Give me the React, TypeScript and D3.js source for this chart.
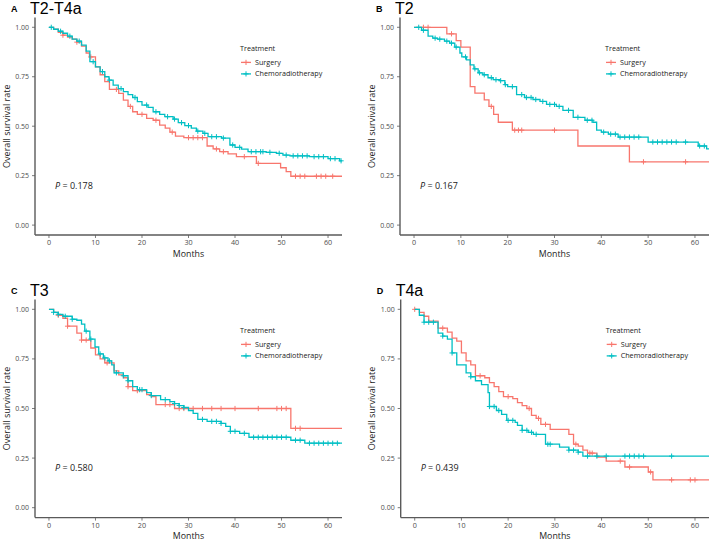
import React from 'react';
import * as d3 from 'd3';

const W = 709;
const H = 542;

const xTicks = [0, 10, 20, 30, 40, 50, 60];
const yTicks = [0, 0.25, 0.5, 0.75, 1];
const yTickLabels = ['0.00', '0.25', '0.50', '0.75', '1.00'];
const seriesNames = ['Surgery', 'Chemoradiotherapy'];
const seriesColors = ['#F8766D', '#00BFC4'];
const panelLetters = ['A', 'B', 'C', 'D'];
const panelTitles = ['T2-T4a', 'T2', 'T3', 'T4a'];
const pValues = ['0.178', '0.167', '0.580', '0.439'];
const legendTitle = 'Treatment';
const xLabel = 'Months';
const yLabel = 'Overall survival rate';

// Panel A (T2-T4a)
const aSurgTime = [1, 2, 3, 4, 5, 6, 7, 8, 8.7, 10, 11, 12, 13, 15, 16, 17, 18, 19, 21, 22.4, 23.8, 25, 26, 27.2, 29, 34, 35.3, 36.7, 38.5, 40.3, 44.6, 49.8, 51, 52];
const aSurgSurv = [0.99, 0.975, 0.96, 0.95, 0.94, 0.925, 0.905, 0.87, 0.85, 0.8, 0.76, 0.725, 0.686, 0.666, 0.632, 0.6, 0.573, 0.56, 0.54, 0.53, 0.505, 0.49, 0.47, 0.45, 0.442, 0.4, 0.385, 0.371, 0.36, 0.346, 0.312, 0.29, 0.27, 0.247];
const aSurgCens = [3, 6, 9, 14.5, 17.5, 20, 23, 26.5, 30, 31, 32, 33, 36, 37.5, 42, 45, 53, 54, 55, 57.5, 58.5, 59.5, 61];
const aChemTime = [1, 2, 3, 4, 5, 6, 7, 8, 8.8, 10, 11, 12, 12.9, 13.8, 14.9, 16, 17, 18, 19, 20, 21.3, 22.4, 23.8, 24.9, 26.7, 27.8, 29.2, 30.6, 31.7, 33.1, 34.2, 37.1, 38.9, 40, 41.4, 42.8, 46.7, 48.9, 50.3, 51.8, 56, 60, 62.5];
const aChemSurv = [0.99, 0.98, 0.97, 0.955, 0.94, 0.93, 0.91, 0.88, 0.826, 0.8, 0.776, 0.75, 0.733, 0.708, 0.69, 0.675, 0.66, 0.645, 0.624, 0.607, 0.595, 0.573, 0.56, 0.548, 0.536, 0.518, 0.503, 0.49, 0.475, 0.464, 0.447, 0.44, 0.405, 0.393, 0.384, 0.371, 0.368, 0.363, 0.354, 0.35, 0.346, 0.336, 0.325];
const aChemCens = [0.5, 2.5, 4.5, 6.5, 9.5, 11.5, 13, 15.5, 18.5, 21, 23, 25.5, 27, 28.5, 30, 32, 33.5, 35, 36, 37.5, 39.5, 41, 43.5, 44.5, 45.5, 46, 47.5, 49.5, 51, 52.5, 53.5, 54.5, 55.5, 57, 58, 59, 60.5, 61.5, 62.8];

// Panel B (T2)
const bSurgTime = [7, 9, 10, 12, 13, 15, 16, 17, 18, 21, 35, 46];
const bSurgSurv = [0.967, 0.933, 0.9, 0.7, 0.667, 0.633, 0.6, 0.56, 0.52, 0.48, 0.4, 0.32];
const bSurgCens = [2, 3, 8, 16.5, 21.5, 22.3, 23, 30, 49, 58];
const bChemTime = [1.6, 3, 4, 5, 6.5, 7.6, 8.7, 9.8, 10.2, 11.2, 12, 12.8, 13.7, 14.7, 15.8, 16.9, 18.3, 19.4, 20, 21.9, 23.6, 25.4, 26.9, 28.3, 30.4, 31.8, 34, 36.5, 38.2, 39, 40, 41.5, 43.6, 50, 60.7, 62.5];
const bChemSurv = [0.985, 0.955, 0.945, 0.94, 0.93, 0.92, 0.9, 0.87, 0.85, 0.835, 0.81, 0.79, 0.77, 0.76, 0.745, 0.735, 0.73, 0.71, 0.7, 0.66, 0.645, 0.635, 0.625, 0.61, 0.6, 0.58, 0.545, 0.53, 0.52, 0.48, 0.47, 0.46, 0.445, 0.42, 0.4, 0.385];
const bChemCens = [1, 2, 4.5, 5.5, 7, 8, 9, 11, 13, 14, 15, 16.5, 17.5, 18.5, 19.5, 21, 23, 24, 25, 26, 27.5, 29, 30, 31, 33, 35, 37, 38, 40.5, 42, 43, 44, 45, 46, 47, 48, 51, 52, 53, 54, 55, 56, 58, 61, 62];

// Panel C (T3)
const cSurgTime = [1, 2, 3, 4, 6, 7, 9, 10, 11, 12, 14, 15, 16, 17, 18, 21, 22, 23, 27, 52];
const cSurgSurv = [0.985, 0.97, 0.955, 0.915, 0.88, 0.845, 0.805, 0.77, 0.75, 0.73, 0.69, 0.67, 0.655, 0.61, 0.59, 0.57, 0.56, 0.52, 0.5, 0.4];
const cSurgCens = [2, 4, 7, 8, 12.5, 17, 19, 25, 26, 28, 29, 31, 33, 35, 37, 40, 45, 49, 50, 51, 53, 54];
const cChemTime = [1, 2, 3, 5, 6, 7, 7.7, 8.8, 9.9, 10.7, 11.7, 12.7, 13.5, 14, 16, 17, 18, 19, 21, 22, 24, 26, 27, 28, 29, 30, 31, 32, 34, 37, 38, 39, 41, 43, 52, 55];
const cChemSurv = [0.985, 0.975, 0.965, 0.95, 0.945, 0.925, 0.89, 0.85, 0.81, 0.775, 0.755, 0.74, 0.72, 0.68, 0.665, 0.64, 0.61, 0.595, 0.58, 0.565, 0.545, 0.535, 0.525, 0.515, 0.505, 0.49, 0.475, 0.445, 0.435, 0.425, 0.41, 0.385, 0.375, 0.355, 0.34, 0.325];
const cChemCens = [1, 2, 3.5, 5, 8, 9, 11, 12, 13, 14.5, 16, 17, 19.5, 20, 22, 25, 27, 28, 29, 33, 35, 36, 37, 39, 40, 42, 44, 45, 46, 47, 48, 49, 50, 51, 53, 54, 56, 57, 58, 59, 60, 61, 62];

// Panel D (T4a)
const dSurgTime = [1, 2, 3, 5, 7, 8, 9, 10, 11, 12, 13, 15, 16, 17, 18, 19, 21, 22, 23, 24, 25, 26, 27, 29, 33, 34, 35, 36, 37, 39, 41, 45, 50, 51];
const dSurgSurv = [0.985, 0.965, 0.94, 0.905, 0.885, 0.855, 0.84, 0.78, 0.74, 0.72, 0.665, 0.655, 0.63, 0.61, 0.585, 0.56, 0.55, 0.53, 0.515, 0.5, 0.465, 0.45, 0.42, 0.395, 0.37, 0.32, 0.31, 0.29, 0.275, 0.255, 0.235, 0.205, 0.18, 0.14];
const dSurgCens = [0, 6, 14, 20, 24.5, 26.5, 28, 34.5, 37.5, 38, 44, 46, 50.5, 55, 59, 60];
const dChemTime = [1, 2, 5, 6, 7, 8, 9, 11, 12, 13, 14.3, 15.7, 16, 17.5, 18.6, 19.7, 21.5, 22, 23, 24.3, 25.4, 28, 31, 33, 35, 36];
const dChemSurv = [0.97, 0.935, 0.88, 0.865, 0.85, 0.78, 0.72, 0.68, 0.66, 0.64, 0.62, 0.58, 0.51, 0.49, 0.47, 0.44, 0.43, 0.415, 0.39, 0.38, 0.37, 0.32, 0.305, 0.29, 0.28, 0.26];
const dChemCens = [2, 3, 4, 6, 8, 12, 16, 17, 18, 20, 21, 23, 24, 25, 26, 28.5, 29, 33, 34, 35, 37, 39, 41, 45, 46, 47, 48, 49, 55];

const panelData = [
  [[aSurgTime, aSurgSurv, aSurgCens], [aChemTime, aChemSurv, aChemCens]],
  [[bSurgTime, bSurgSurv, bSurgCens], [bChemTime, bChemSurv, bChemCens]],
  [[cSurgTime, cSurgSurv, cSurgCens], [cChemTime, cChemSurv, cChemCens]],
  [[dSurgTime, dSurgSurv, dSurgCens], [dChemTime, dChemSurv, dChemCens]],
];

const FONT = "'Open Sans', 'Noto Sans', sans-serif";
const TITLE_FONT = "'Liberation Sans', Arial, sans-serif";
const AXIS_COLOR = '#5a5a5a';
const TEXT_COLOR = '#4d4d4d';

function survAt(times: number[], surv: number[], t: number) {
  let s = 1;
  for (let i = 0; i < times.length; i++) {
    if (times[i] <= t) s = surv[i];
  }
  return s;
}

function Plus({ x, y, color }: { x: number; y: number; color: string }) {
  const a = 2.6;
  return (
    <g stroke={color} strokeWidth={1}>
      <line x1={x - a} x2={x + a} y1={y} y2={y} />
      <line x1={x} x2={x} y1={y - a} y2={y + a} />
    </g>
  );
}

function Panel({ idx, left, right, top, bottom }: { idx: number; left: number; right: number; top: number; bottom: number }) {
  const x = d3.scaleLinear().domain([-3, 63]).range([left, right]);
  const y = d3.scaleLinear().domain([-0.05, 1.05]).range([bottom, top]);
  const line = d3
    .line<[number, number]>()
    .x((d) => x(d[0]))
    .y((d) => y(d[1]))
    .curve(d3.curveStepAfter);
  const series = panelData[idx];
  const legX = left + 205;
  const legY = top + 31;
  const midY = (top + bottom) / 2;
  return (
    <g>
      <text x={left - 24} y={top - 5} fontFamily={TITLE_FONT} fontWeight="bold" fontSize={9} fill="#000">
        {panelLetters[idx]}
      </text>
      <text x={left - 5} y={top - 3.5} fontFamily={TITLE_FONT} fontSize={16} fill="#000">
        {panelTitles[idx]}
      </text>
      {series.map((s, si) => {
        const [times, surv, cens] = s as number[][];
        const pts: [number, number][] = [[0, 1]];
        times.forEach((t, i) => pts.push([t, surv[i]]));
        pts.push([63, surv[surv.length - 1]]);
        return (
          <g key={si}>
            <path d={line(pts) || ''} fill="none" stroke={seriesColors[si]} strokeWidth={1.3} />
            {cens.map((c, ci) => (
              <Plus key={ci} x={x(c)} y={y(survAt(times, surv, c))} color={seriesColors[si]} />
            ))}
          </g>
        );
      })}
      <line x1={left} x2={left} y1={top} y2={bottom} stroke={AXIS_COLOR} strokeWidth={1.4} />
      <line x1={left} x2={right} y1={bottom} y2={bottom} stroke={AXIS_COLOR} strokeWidth={1.4} />
      {yTicks.map((t, i) => (
        <g key={i}>
          <line x1={left - 3} x2={left} y1={y(t)} y2={y(t)} stroke={AXIS_COLOR} strokeWidth={0.8} />
          <text x={left - 6} y={y(t)} dy="0.35em" textAnchor="end" fontFamily={FONT} fontSize={7} fill={TEXT_COLOR}>
            {yTickLabels[i]}
          </text>
        </g>
      ))}
      {xTicks.map((t, i) => (
        <g key={i}>
          <line x1={x(t)} x2={x(t)} y1={bottom} y2={bottom + 3} stroke={AXIS_COLOR} strokeWidth={0.8} />
          <text x={x(t)} y={bottom + 7.5} dy="0.35em" textAnchor="middle" fontFamily={FONT} fontSize={7.2} fill={TEXT_COLOR}>
            {t}
          </text>
        </g>
      ))}
      <text x={(left + right) / 2} y={bottom + 18.6} dy="0.35em" textAnchor="middle" fontFamily={FONT} fontSize={8.8} fill="#222">
        {xLabel}
      </text>
      <text
        transform={`translate(${left - 28.5},${midY}) rotate(-90)`}
        textAnchor="middle"
        dy="0.35em"
        fontFamily={FONT}
        fontSize={9}
        fill="#222"
      >
        {yLabel}
      </text>
      <text x={left + 20} y={y(0.2)} dy="0.35em" fontFamily={FONT} fontSize={9} fill="#222">
        <tspan fontStyle="italic">P</tspan>
        <tspan> = {pValues[idx]}</tspan>
      </text>
      <text x={legX} y={legY} dy="0.35em" fontFamily={FONT} fontSize={7.2} fill="#222">
        {legendTitle}
      </text>
      {seriesNames.map((n, i) => {
        const ly = legY + 14 + i * 11.5;
        return (
          <g key={i}>
            <line x1={legX + 1} x2={legX + 11} y1={ly} y2={ly} stroke={seriesColors[i]} strokeWidth={1.3} />
            <Plus x={legX + 6} y={ly} color={seriesColors[i]} />
            <text x={legX + 15} y={ly} dy="0.35em" fontFamily={FONT} fontSize={7.2} fill="#222">
              {n}
            </text>
          </g>
        );
      })}
    </g>
  );
}

export default function App() {
  const panels = [
    { left: 35, right: 342, top: 17.4, bottom: 235 },
    { left: 400, right: 709, top: 17.4, bottom: 235 },
    { left: 35, right: 342, top: 299.4, bottom: 517.6 },
    { left: 400.7, right: 709, top: 299.4, bottom: 517.6 },
  ];
  return (
    <svg
      width={W}
      height={H}
      viewBox={`0 0 ${W} ${H}`}
      style={{ position: 'absolute', left: 0, top: 0, background: '#fff' }}
    >
      <rect x={0} y={0} width={W} height={H} fill="#fff" />
      {panels.map((p, i) => (
        <Panel key={i} idx={i} {...p} />
      ))}
    </svg>
  );
}
